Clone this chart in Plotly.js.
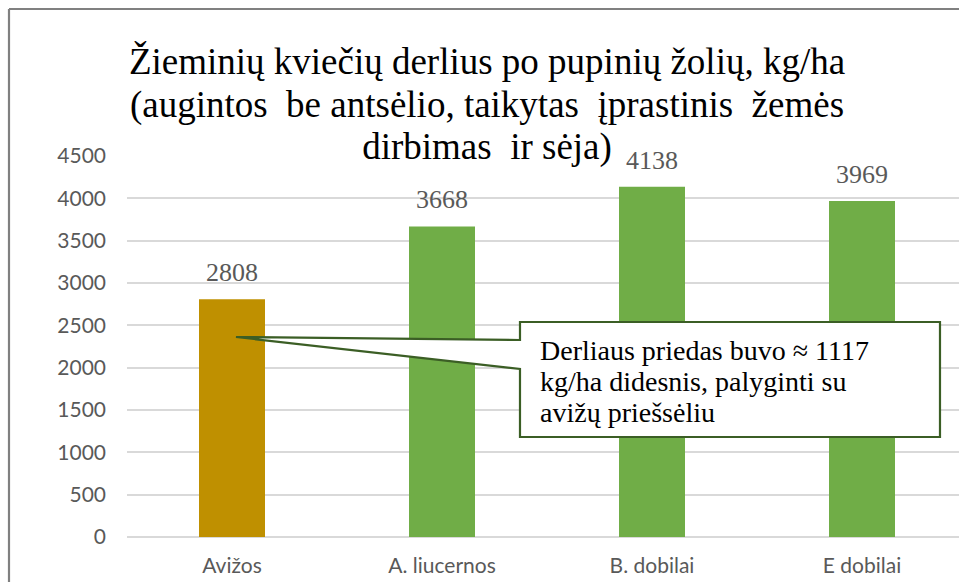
<!DOCTYPE html>
<html>
<head>
<meta charset="utf-8">
<script src="https://cdn.plot.ly/plotly-3.0.1.min.js"></script>
<style>
html,body{margin:0;padding:0;background:#fff;overflow:hidden;}
#chart{width:959px;height:582px;}
</style>
</head>
<body>
<div id="chart"></div>
<script>
const categories = ["Avižos", "A. liucernos", "B. dobilai", "E dobilai"];
const yields = [2808, 3668, 4138, 3969];
const barColors = ["#BF9000", "#70AD47", "#70AD47", "#70AD47"];
const yTicks = [0, 500, 1000, 1500, 2000, 2500, 3000, 3500, 4000, 4500];
const titleLines = [
  "Žieminių kviečių derlius po pupinių žolių, kg/ha",
  "(augintos  be antsėlio, taikytas  įprastinis  žemės",
  "dirbimas  ir sėja)"
];
const calloutLines = [
  "Derliaus priedas buvo ≈ 1117",
  "kg/ha didesnis, palyginti su",
  "avižų priešsėliu"
];

const SERIF = "Liberation Serif";
const SANS = "Lato";

// plot-area geometry (pixels)
const W = 959, H = 582;
const L = 127, R = 959, T = 156, B = 537;
const xMin = -0.5, catStep = 210;
const xMax = xMin + (R - L) / catStep;
const yMax = 4500;
const dx = px => xMin + (px - L) / catStep;
const dy = py => (B - py) / (B - T) * yMax;
const pxp = px => (px - L) / (R - L);
const pyp = py => (B - py) / (B - T);
// glyph size inside a block whose line spacing is set by the base size
const sized = (lines, px) => lines.map(s => '<span style="font-size:' + px + 'px">' + s + '</span>').join("<br>");

const trace = {
  type: "bar",
  x: categories,
  y: yields,
  marker: {color: barColors},
  hoverinfo: "skip"
};

const valueLabels = categories.map((c, i) => ({
  x: c, y: yields[i], xref: "x", yref: "y",
  text: String(yields[i]), showarrow: false,
  yanchor: "bottom", yshift: 10,
  font: {family: SERIF, size: 26, color: "#595959"}
}));

// callout shape: box with wedge pointing to the oat bar
const tip = [236, 337];
const bx0 = 520, bx1 = 940, by0 = 322, by1 = 437, w0 = 340, w1 = 369;
const pts = [[bx0, by0], [bx1, by0], [bx1, by1], [bx0, by1], [bx0, w1], tip, [bx0, w0]];
const path = "M " + pts.map(p => dx(p[0]).toFixed(4) + "," + dy(p[1]).toFixed(2)).join(" L ") + " Z";

const layout = {
  width: W, height: H,
  margin: {l: L, r: W - R, t: T, b: H - B, pad: 0},
  paper_bgcolor: "#ffffff", plot_bgcolor: "#ffffff",
  showlegend: false,
  bargap: 1 - 66 / 210,
  title: {
    text: sized(titleLines, 37),
    font: {family: SERIF, size: 32.7, color: "#000000"},
    x: 487 / W, xref: "container", xanchor: "center",
    y: 1 - 74 / H, yref: "container", yanchor: "top"
  },
  xaxis: {
    type: "category",
    range: [xMin, xMax],
    showgrid: false, zeroline: false, showline: false,
    ticks: "", ticklabelstandoff: 14,
    tickfont: {family: SANS, size: 21, color: "#595959"},
    fixedrange: true
  },
  yaxis: {
    range: [0, yMax],
    tickvals: yTicks,
    ticktext: yTicks.map(String),
    showgrid: true, gridcolor: "#D9D9D9", gridwidth: 1.5,
    zeroline: true, zerolinecolor: "#D9D9D9", zerolinewidth: 1.5,
    showline: false, ticks: "", ticklabelstandoff: 20,
    tickfont: {family: SANS, size: 21, color: "#595959"},
    fixedrange: true
  },
  shapes: [
    {type: "path", xref: "x", yref: "y", path: path,
     fillcolor: "#ffffff", line: {color: "#3B5E25", width: 2.2}, layer: "above"},
    {type: "line", xref: "paper", yref: "paper",
     x0: pxp(9), x1: pxp(9), y0: pyp(600), y1: pyp(9),
     line: {color: "#808080", width: 2.2}},
    {type: "line", xref: "paper", yref: "paper",
     x0: pxp(9), x1: pxp(980), y0: pyp(9), y1: pyp(9),
     line: {color: "#808080", width: 2.2}}
  ],
  annotations: valueLabels.concat([{
    xref: "x", yref: "y", x: dx(538), y: dy(381),
    xanchor: "left", yanchor: "middle", align: "left",
    text: sized(calloutLines, 28), showarrow: false,
    font: {family: SERIF, size: 24, color: "#000000"}
  }])
};

Plotly.newPlot("chart", [trace], layout, {displayModeBar: false});
</script>
</body>
</html>
